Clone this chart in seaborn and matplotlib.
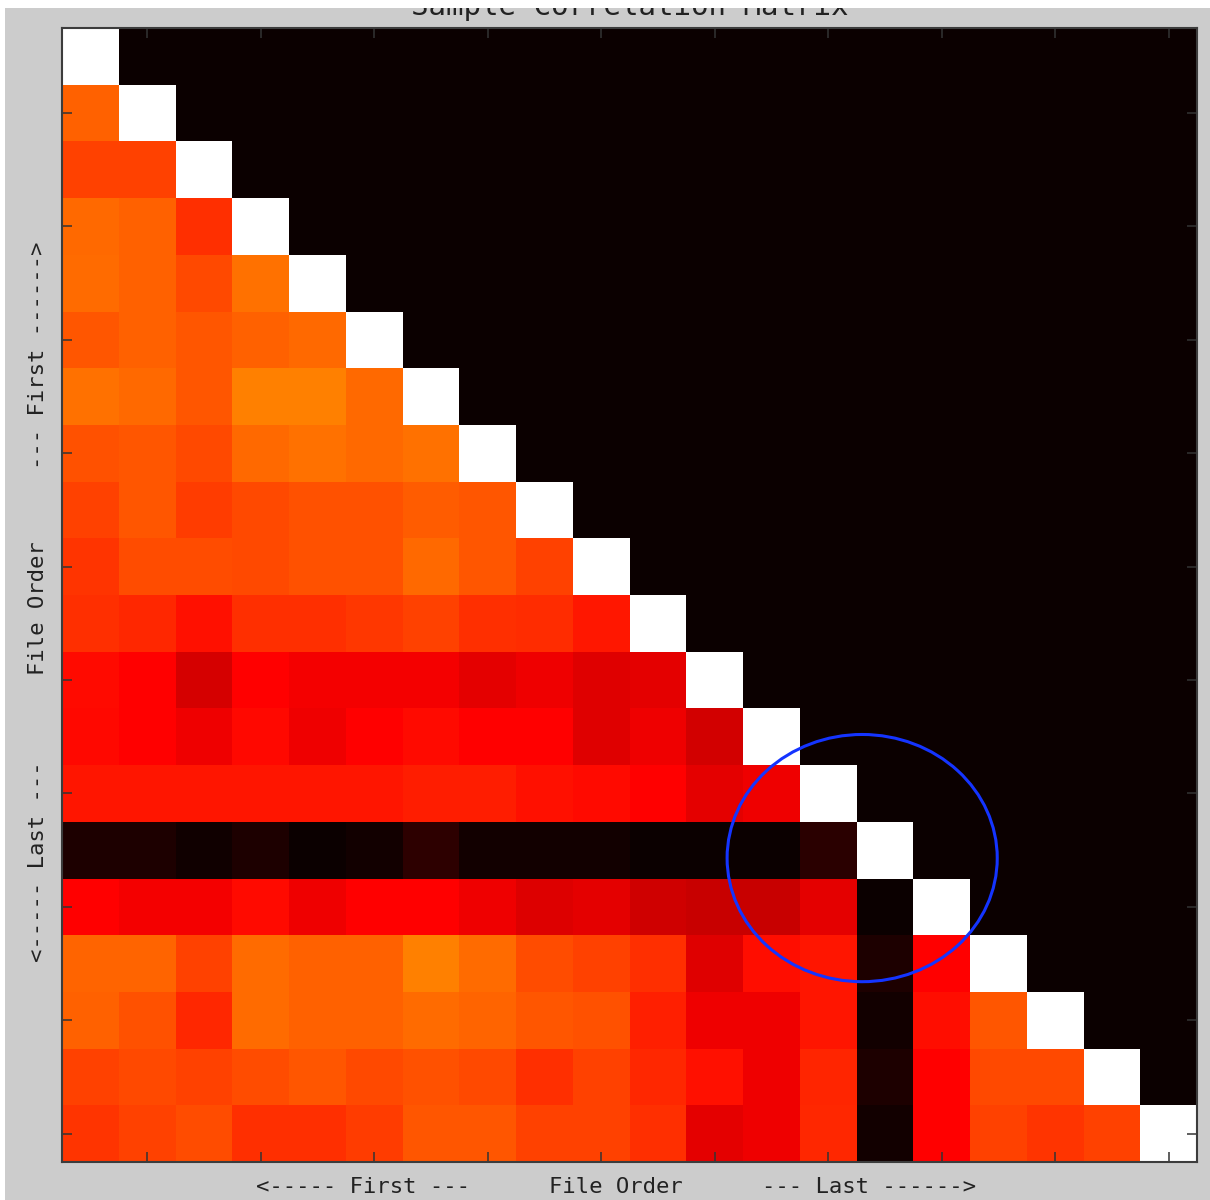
import numpy as np
import pandas as pd
import seaborn as sns
import matplotlib
matplotlib.use("Agg")
import matplotlib.pyplot as plt
from matplotlib.patches import Ellipse, Rectangle

# ---- data: lower-triangle correlation values (row i, columns 0..i-1) ----
r1 = [0.508]
r2 = [0.461, 0.461]
r3 = [0.520, 0.508, 0.437]
r4 = [0.526, 0.508, 0.473, 0.532]
r5 = [0.496, 0.508, 0.496, 0.508, 0.520]
r6 = [0.532, 0.520, 0.496, 0.556, 0.556, 0.520]
r7 = [0.485, 0.496, 0.473, 0.520, 0.532, 0.520, 0.532]
r8 = [0.461, 0.496, 0.455, 0.473, 0.485, 0.485, 0.502, 0.496]
r9 = [0.443, 0.479, 0.479, 0.473, 0.485, 0.485, 0.520, 0.496, 0.461]
r10 = [0.437, 0.425, 0.389, 0.437, 0.437, 0.449, 0.461, 0.437, 0.431, 0.401]
r11 = [0.380, 0.365, 0.301, 0.365, 0.350, 0.350, 0.350, 0.328, 0.343, 0.319, 0.328]
r12 = [0.377, 0.365, 0.343, 0.377, 0.343, 0.365, 0.380, 0.365, 0.365, 0.319, 0.343, 0.298]
r13 = [0.395, 0.395, 0.395, 0.395, 0.395, 0.395, 0.407, 0.407, 0.389, 0.380, 0.365, 0.325, 0.343]
r14 = [0.029, 0.029, 0.011, 0.029, 0.000, 0.014, 0.051, 0.014, 0.014, 0.014, 0.000, 0.000, 0.000, 0.047]
r15 = [0.365, 0.350, 0.350, 0.380, 0.343, 0.365, 0.365, 0.343, 0.313, 0.325, 0.295, 0.283, 0.283, 0.328, 0.000]
r16 = [0.514, 0.514, 0.461, 0.526, 0.508, 0.508, 0.556, 0.526, 0.479, 0.461, 0.437, 0.319, 0.383, 0.395, 0.029, 0.365]
r17 = [0.508, 0.485, 0.425, 0.526, 0.508, 0.508, 0.526, 0.514, 0.496, 0.485, 0.413, 0.343, 0.343, 0.395, 0.014, 0.383, 0.496]
r18 = [0.461, 0.473, 0.461, 0.479, 0.496, 0.473, 0.485, 0.473, 0.437, 0.461, 0.425, 0.389, 0.343, 0.419, 0.029, 0.365, 0.473, 0.473]
r19 = [0.443, 0.461, 0.479, 0.437, 0.437, 0.455, 0.496, 0.496, 0.461, 0.461, 0.437, 0.325, 0.343, 0.425, 0.014, 0.365, 0.461, 0.443, 0.461]
lower_rows = [r1, r2, r3, r4, r5, r6, r7, r8, r9, r10, r11, r12, r13, r14, r15, r16, r17, r18, r19]

diag_value = 1.0
upper_value = 0.0
title_text = "Sample Correlation Matrix"
x_label_parts = ["<----- First ---", "File Order", "--- Last ------>"]
y_label_parts = ["<----- Last ---", "File Order", "--- First ------>"]

n = len(lower_rows) + 1
mat = np.full((n, n), upper_value)
for i in range(n):
    mat[i, i] = diag_value
for i, row in enumerate(lower_rows, start=1):
    mat[i, :len(row)] = row
df = pd.DataFrame(mat)

# ---- figure ----
W, H = 1210, 1200
fig = plt.figure(figsize=(W / 100, H / 100), dpi=100, facecolor="#cccccc")
L, R, T, B = 62, 1197, 28, 1162
ax = fig.add_axes([L / W, 1 - B / H, (R - L) / W, (B - T) / H])

sns.heatmap(df, cmap="hot", vmin=0, vmax=1, cbar=False, ax=ax,
            xticklabels=False, yticklabels=False)

for s in ax.spines.values():
    s.set_visible(True)
    s.set_color("#3c3c3c")
    s.set_linewidth(1.5)

ticks = np.arange(1, n, 2) + 0.5
ax.set_xticks(ticks)
ax.set_yticks(ticks)
ax.tick_params(direction="in", top=True, right=True, bottom=True, left=True,
               labelbottom=False, labelleft=False, length=7, width=1.1,
               color="#333333")

# highlight ellipse
ax.add_patch(Ellipse((14.10, 14.64), 4.76, 4.36, fill=False,
                     edgecolor="#1434ff", linewidth=2.2, zorder=5,
                     clip_on=False))

font = ["DejaVu Sans Mono"]
fs = 16
for frac, txt in zip([0.265, 0.488, 0.711], x_label_parts):
    ax.text(frac, -25 / (B - T), txt, transform=ax.transAxes, ha="center",
            va="center", fontsize=fs, family=font, color="#222222")
for frac, txt in zip([0.265, 0.488, 0.711], y_label_parts):
    ax.text(-24 / (R - L), frac, txt, transform=ax.transAxes, ha="center",
            va="center", rotation=90, fontsize=fs, family=font, color="#222222")

fig.text((L + R) / 2 / W, 1 - 15 / H, title_text, ha="center", va="baseline",
         fontsize=21, family=font, color="#222222", zorder=3)

# white screenshot margins (top and left)
fig.add_artist(Rectangle((0, 1 - 8 / H), 1, 8 / H, transform=fig.transFigure,
                         facecolor="white", edgecolor="none", zorder=20))
fig.add_artist(Rectangle((0, 0), 5 / W, 1, transform=fig.transFigure,
                         facecolor="white", edgecolor="none", zorder=20))

fig.savefig("out.png", dpi=100, facecolor=fig.get_facecolor())
